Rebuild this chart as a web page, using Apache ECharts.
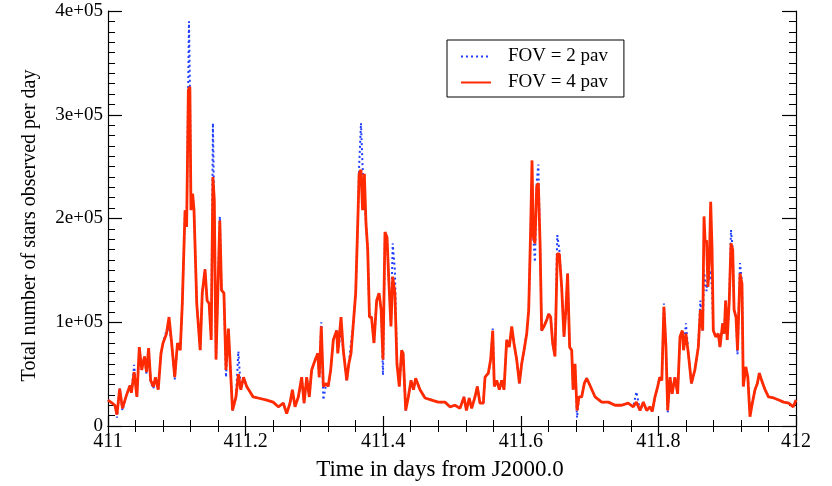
<!DOCTYPE html>
<html>
<head>
<meta charset="utf-8">
<title>Stars observed per day</title>
<script src="https://cdn.jsdelivr.net/npm/echarts@6/dist/echarts.min.js"></script>
<style>
  html, body { margin: 0; padding: 0; background: #fff; }
  #chart { width: 832px; height: 486px; }
</style>
</head>
<body>
<div id="chart"></div>
<script>
// FOV = 4 pav (red solid)
const fov4Time = [
  411.000, 411.006, 411.010, 411.013, 411.017, 411.021, 411.027, 411.032, 411.034, 411.038,
  411.042, 411.0455, 411.049, 411.053, 411.056, 411.059, 411.062, 411.066, 411.069, 411.073,
  411.077, 411.080, 411.085, 411.0887, 411.0925, 411.097, 411.101, 411.105, 411.108, 411.112,
  411.1143, 411.1168, 411.119, 411.1206, 411.123, 411.125, 411.129, 411.134, 411.137, 411.141,
  411.144, 411.147, 411.150, 411.1525, 411.1545, 411.157, 411.1625, 411.165, 411.1685, 411.1715,
  411.175, 411.181, 411.186, 411.1895, 411.193, 411.197, 411.2016, 411.211, 411.221, 411.2307,
  411.240, 411.2476, 411.2548, 411.2597, 411.2645, 411.268, 411.2718, 411.2766, 411.2815, 411.285,
  411.2888, 411.2926, 411.296, 411.301, 411.305, 411.307, 411.310, 411.313, 411.317, 411.320,
  411.3237, 411.3275, 411.3324, 411.334, 411.3387, 411.342, 411.347, 411.350, 411.3532, 411.3566,
  411.360, 411.363, 411.365, 411.3677, 411.370, 411.3726, 411.375, 411.3775, 411.380, 411.383,
  411.3866, 411.3905, 411.394, 411.397, 411.3997, 411.4026, 411.4055, 411.4084, 411.4113, 411.4138,
  411.417, 411.420, 411.4234, 411.4268, 411.429, 411.4327, 411.4365, 411.4404, 411.444, 411.4472,
  411.4535, 411.4608, 411.4705, 411.480, 411.4898, 411.497, 411.5044, 411.5116, 411.5174, 411.521,
  411.525, 411.5286, 411.5334, 411.5368, 411.5407, 411.5455, 411.548, 411.5528, 411.5562, 411.5592,
  411.5615, 411.565, 411.5688, 411.5722, 411.5756, 411.5795, 411.5833, 411.5868, 411.590, 411.594,
  411.598, 411.6013, 411.6047, 411.6086, 411.6115, 411.6144, 411.6163, 411.6182, 411.6206, 411.6231,
  411.6255, 411.628, 411.6303, 411.6337, 411.6376, 411.6405, 411.6434, 411.6463, 411.6497, 411.653,
  411.656, 411.6594, 411.6628, 411.6655, 411.668, 411.671, 411.674, 411.676, 411.6788, 411.6817,
  411.6846, 411.6885, 411.6923, 411.6958, 411.7006, 411.708, 411.7176, 411.7272, 411.737, 411.7466,
  411.756, 411.7635, 411.768, 411.7733, 411.778, 411.783, 411.7878, 411.791, 411.795, 411.799,
  411.8019, 411.805, 411.808, 411.811, 411.8135, 411.8169, 411.820, 411.824, 411.828, 411.8314,
  411.8348, 411.8365, 411.840, 411.8435, 411.848, 411.853, 411.858, 411.861, 411.8644, 411.8663,
  411.868, 411.870, 411.872, 411.874, 411.876, 411.878, 411.8798, 411.8832, 411.887, 411.8895,
  411.8934, 411.8957, 411.8977, 411.900, 411.903, 411.9055, 411.908, 411.910, 411.9128, 411.915,
  411.9186, 411.9215, 411.9234, 411.927, 411.930, 411.9331, 411.9365, 411.9404, 411.9438, 411.9467,
  411.950, 411.955, 411.960, 411.9675, 411.975, 411.982, 411.9895, 411.996, 412.000
]
const fov4Stars = [
  25000, 22000, 20000, 11000, 36000, 17000, 30000, 39000, 32000, 52000,
  28000, 76000, 54000, 67000, 52000, 75000, 44000, 38000, 47000, 35000,
  70000, 80000, 89000, 105000, 80000, 47000, 80000, 73000, 118000, 208000,
  192000, 324000, 327000, 208000, 224000, 208000, 118000, 73000, 128000, 151000,
  121000, 118000, 83000, 240000, 218000, 64000, 198000, 131000, 128000, 54000,
  94000, 15000, 28000, 50000, 35000, 47000, 38000, 28000, 26500, 25000,
  23000, 18500, 22000, 12000, 22000, 35000, 18500, 28000, 47000, 22000,
  47000, 28000, 54000, 63500, 70000, 47000, 96000, 38000, 41000, 38000,
  54000, 83000, 92000, 70000, 105000, 73000, 44000, 60000, 70000, 99000,
  128000, 195000, 243000, 247000, 208000, 243000, 195000, 170000, 105000, 105000,
  80000, 121000, 128000, 112000, 64000, 187000, 182000, 137000, 96000, 144000,
  128000, 60000, 38000, 73000, 70000, 15000, 28000, 44000, 35000, 46000,
  35000, 27000, 25000, 23000, 23000, 18500, 20000, 17000, 28000, 15000,
  27000, 17000, 28000, 38000, 22000, 22000, 47000, 51000, 64000, 92000,
  38000, 44000, 35000, 44000, 35000, 83000, 76000, 96000, 80000, 64000,
  41000, 60000, 73000, 89000, 112000, 192000, 256000, 182000, 176000, 231000,
  234000, 176000, 92000, 96000, 102000, 108000, 105000, 80000, 67000, 166000,
  166000, 134000, 86000, 112000, 147000, 76000, 73000, 35000, 60000, 15000,
  28000, 28000, 41000, 46000, 39000, 28000, 23000, 23000, 20000, 20000,
  22000, 18500, 23000, 15000, 23000, 15000, 18500, 14000, 28000, 38000,
  47000, 44000, 115000, 76000, 15000, 47000, 31000, 47000, 31000, 86000,
  92000, 73000, 89000, 70000, 41000, 54000, 76000, 112000, 92000, 202000,
  176000, 179000, 134000, 157000, 216000, 170000, 92000, 86000, 89000, 76000,
  99000, 89000, 121000, 83000, 121000, 176000, 170000, 112000, 105000, 73000,
  147000, 137000, 38000, 57000, 47000, 9000, 22000, 35000, 41000, 51000,
  44000, 35000, 28000, 27000, 25000, 23000, 22000, 18500, 25000
]

// FOV = 2 pav (blue dotted), same sampling plus the taller peaks
const fov2Time = [
  411.000, 411.006, 411.010, 411.013, 411.017, 411.021, 411.027, 411.032, 411.034, 411.038,
  411.042, 411.0455, 411.049, 411.053, 411.056, 411.059, 411.062, 411.066, 411.069, 411.073,
  411.077, 411.080, 411.085, 411.0887, 411.0925, 411.097, 411.101, 411.105, 411.108, 411.112,
  411.1143, 411.1168, 411.1177, 411.119, 411.1206, 411.123, 411.125, 411.129, 411.134, 411.137,
  411.141, 411.144, 411.147, 411.150, 411.1525, 411.1545, 411.157, 411.1625, 411.165, 411.1685,
  411.1715, 411.175, 411.181, 411.186, 411.1895, 411.193, 411.197, 411.2016, 411.211, 411.221,
  411.2307, 411.240, 411.2476, 411.2548, 411.2597, 411.2645, 411.268, 411.2718, 411.2766, 411.2815,
  411.285, 411.2888, 411.2926, 411.296, 411.301, 411.305, 411.307, 411.310, 411.313, 411.317,
  411.320, 411.3237, 411.3275, 411.3324, 411.334, 411.3387, 411.342, 411.347, 411.350, 411.3532,
  411.3566, 411.360, 411.363, 411.365, 411.3677, 411.370, 411.3726, 411.375, 411.3775, 411.380,
  411.383, 411.3866, 411.3905, 411.394, 411.397, 411.3997, 411.4026, 411.4055, 411.4084, 411.4113,
  411.4138, 411.417, 411.420, 411.4234, 411.4268, 411.429, 411.4327, 411.4365, 411.4404, 411.444,
  411.4472, 411.4535, 411.4608, 411.4705, 411.480, 411.4898, 411.497, 411.5044, 411.5116, 411.5174,
  411.521, 411.525, 411.5286, 411.5334, 411.5368, 411.5407, 411.5455, 411.548, 411.5528, 411.5562,
  411.5592, 411.5615, 411.565, 411.5688, 411.5722, 411.5756, 411.5795, 411.5833, 411.5868, 411.590,
  411.594, 411.598, 411.6013, 411.6047, 411.6086, 411.6115, 411.6144, 411.6163, 411.6182, 411.6206,
  411.6231, 411.6255, 411.628, 411.6303, 411.6337, 411.6376, 411.6405, 411.6434, 411.6463, 411.6497,
  411.653, 411.656, 411.6594, 411.6628, 411.6655, 411.668, 411.671, 411.674, 411.676, 411.6788,
  411.6817, 411.6846, 411.6885, 411.6923, 411.6958, 411.7006, 411.708, 411.7176, 411.7272, 411.737,
  411.7466, 411.756, 411.7635, 411.768, 411.7733, 411.778, 411.783, 411.7878, 411.791, 411.795,
  411.799, 411.8019, 411.805, 411.808, 411.811, 411.8135, 411.8169, 411.820, 411.824, 411.828,
  411.8314, 411.8348, 411.8365, 411.840, 411.8435, 411.848, 411.853, 411.858, 411.861, 411.8644,
  411.8663, 411.868, 411.870, 411.872, 411.874, 411.876, 411.878, 411.8798, 411.8832, 411.887,
  411.8895, 411.8934, 411.8957, 411.8977, 411.900, 411.903, 411.9055, 411.908, 411.910, 411.9128,
  411.915, 411.9186, 411.9215, 411.9234, 411.927, 411.930, 411.9331, 411.9365, 411.9404, 411.9438,
  411.9467, 411.950, 411.955, 411.960, 411.9675, 411.975, 411.982, 411.9895, 411.996, 412.000
]
const fov2Stars = [
  25000, 22000, 20000, 8000, 36000, 15000, 30000, 40000, 32000, 59000,
  28000, 76000, 54000, 67000, 50000, 75000, 42000, 36000, 47000, 35000,
  70000, 80000, 92000, 95000, 80000, 45000, 80000, 73000, 118000, 208000,
  192000, 340000, 390000, 330000, 215000, 224000, 208000, 118000, 73000, 128000,
  151000, 121000, 118000, 86000, 292000, 202000, 64000, 202000, 131000, 128000,
  47000, 94000, 15000, 28000, 72000, 35000, 47000, 38000, 28000, 26500,
  25000, 23000, 18500, 22000, 12000, 22000, 35000, 18500, 28000, 47000,
  22000, 47000, 28000, 54000, 63500, 70000, 47000, 100000, 25000, 41000,
  38000, 54000, 83000, 92000, 70000, 92000, 73000, 44000, 60000, 80000,
  99000, 128000, 195000, 250000, 292000, 250000, 250000, 195000, 170000, 105000,
  105000, 80000, 121000, 128000, 112000, 49000, 187000, 182000, 137000, 96000,
  176000, 150000, 60000, 38000, 73000, 70000, 15000, 28000, 44000, 35000,
  46000, 35000, 27000, 25000, 23000, 23000, 18500, 20000, 17000, 28000,
  15000, 27000, 17000, 28000, 38000, 22000, 22000, 47000, 51000, 64000,
  94000, 38000, 44000, 35000, 44000, 35000, 83000, 76000, 96000, 80000,
  64000, 41000, 60000, 73000, 89000, 112000, 192000, 240000, 182000, 158000,
  235000, 252000, 176000, 92000, 96000, 102000, 108000, 105000, 80000, 67000,
  184000, 170000, 134000, 86000, 112000, 147000, 76000, 73000, 35000, 60000,
  8000, 28000, 28000, 41000, 46000, 39000, 28000, 23000, 23000, 20000,
  20000, 22000, 18500, 33000, 15000, 23000, 15000, 18500, 14000, 28000,
  38000, 47000, 44000, 118000, 76000, 13000, 47000, 31000, 47000, 31000,
  86000, 92000, 73000, 99000, 70000, 41000, 54000, 76000, 121000, 92000,
  150000, 140000, 130000, 145000, 140000, 150000, 130000, 92000, 86000, 89000,
  76000, 99000, 89000, 121000, 83000, 121000, 189000, 170000, 112000, 105000,
  69000, 157000, 137000, 38000, 57000, 47000, 13000, 22000, 35000, 41000,
  51000, 44000, 35000, 28000, 27000, 25000, 23000, 22000, 18500, 25000
]

const seriesNames = ['FOV = 2 pav', 'FOV = 4 pav']
const xTicks = [411, 411.2, 411.4, 411.6, 411.8, 412]
const yTickLabels = ['0', '1e+05', '2e+05', '3e+05', '4e+05']

const serif = 'Liberation Serif, Times New Roman, serif'

const pairs = (xs, ys) => xs.map((x, i) => [x, ys[i]])

const chart = echarts.init(document.getElementById('chart'))

// shared axis look, ticks point inward like the original plot
const xBase = {
  type: 'value',
  min: xTicks[0],
  max: xTicks[xTicks.length - 1],
  interval: 0.2,
  axisLine: { show: true, lineStyle: { color: '#000', width: 1.2 } },
  axisTick: { show: true, inside: true, length: 10, lineStyle: { color: '#000', width: 1.2 } },
  minorTick: { show: true, splitNumber: 5, length: 6, lineStyle: { color: '#000', width: 1 } },
  splitLine: { show: false }
}
const yBase = {
  type: 'value',
  min: 0,
  max: 400000,
  interval: 100000,
  axisLine: { show: true, lineStyle: { color: '#000', width: 1.2 } },
  axisTick: { show: true, inside: true, length: 14, lineStyle: { color: '#000', width: 1.2 } },
  minorTick: { show: true, splitNumber: 10, length: 7, lineStyle: { color: '#000', width: 1 } },
  splitLine: { show: false }
}

const option = {
  animation: false,
  backgroundColor: '#fff',
  grid: { left: 108, right: 36, top: 11, bottom: 60, containLabel: false },
  legend: {
    data: seriesNames,
    orient: 'vertical',
    left: 447,
    top: 40,
    padding: [7, 16, 5, 13],
    itemWidth: 30,
    itemHeight: 14,
    itemGap: 7,
    borderColor: '#000',
    borderWidth: 1,
    borderRadius: 0,
    // hide the marker dot, keep only the line sample
    itemStyle: { opacity: 0 },
    textStyle: { fontFamily: serif, fontSize: 19, color: '#000', padding: [0, 0, 0, 12] }
  },
  xAxis: [
    Object.assign({}, xBase, {
      position: 'bottom',
      name: 'Time in days from J2000.0',
      nameLocation: 'middle',
      nameGap: 32,
      nameTextStyle: { fontFamily: serif, fontSize: 23, color: '#000', padding: [0, 24, 0, 0] },
      axisLabel: {
        show: true,
        margin: 6,
        fontFamily: serif,
        fontSize: 20,
        color: '#000',
        formatter: v => String(+v.toFixed(1))
      }
    }),
    Object.assign({}, xBase, { position: 'top', axisLabel: { show: false } })
  ],
  yAxis: [
    Object.assign({}, yBase, {
      position: 'left',
      name: 'Total number of stars observed per day',
      nameLocation: 'middle',
      nameGap: 68,
      nameTextStyle: { fontFamily: serif, fontSize: 20, color: '#000', padding: [0, 14, 0, 0] },
      axisLabel: {
        show: true,
        margin: 5,
        fontFamily: serif,
        fontSize: 19,
        color: '#000',
        formatter: v => yTickLabels[Math.round(v / 100000)]
      }
    }),
    Object.assign({}, yBase, { position: 'right', axisLabel: { show: false } })
  ],
  series: [
    {
      name: seriesNames[0],
      type: 'line',
      xAxisIndex: 0,
      yAxisIndex: 0,
      data: pairs(fov2Time, fov2Stars),
      symbol: 'none',
      z: 2,
      lineStyle: { color: '#1f3dff', width: 2, type: [2, 3] },
      itemStyle: { color: '#1f3dff' }
    },
    {
      name: seriesNames[1],
      type: 'line',
      xAxisIndex: 0,
      yAxisIndex: 0,
      data: pairs(fov4Time, fov4Stars),
      symbol: 'none',
      z: 3,
      lineStyle: { color: '#ff2a00', width: 2.8 },
      itemStyle: { color: '#ff2a00' }
    }
  ]
}

chart.setOption(option)
</script>
</body>
</html>
